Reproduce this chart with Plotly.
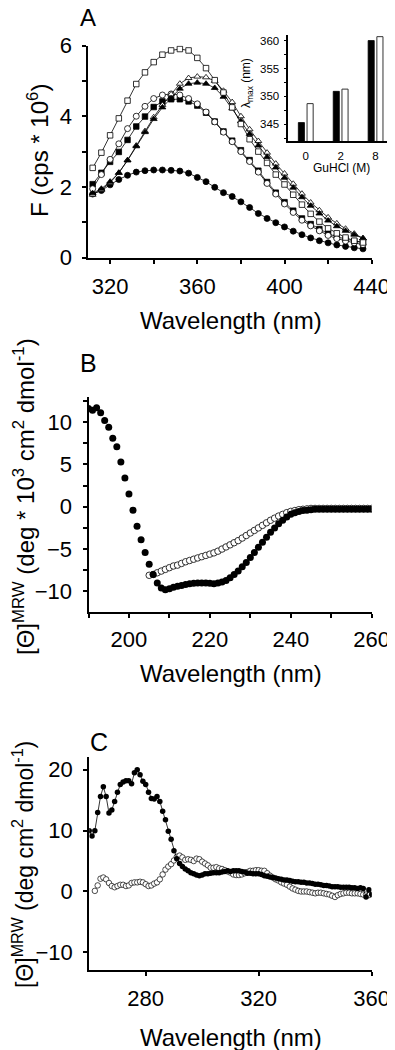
import plotly.graph_objects as go

FONT = "Liberation Sans, Arial, sans-serif"

# ---------------- Panel A data ----------------
wl_A = list(range(312, 437, 4))
sq_open = [2.54, 2.97, 3.46, 3.94, 4.44, 4.91, 5.24, 5.53, 5.74, 5.86, 5.90, 5.86, 5.65, 5.36, 5.02, 4.67,
           4.25, 3.78, 3.35, 3.00, 2.68, 2.35, 2.07, 1.78, 1.50, 1.24, 1.02, 0.83, 0.69, 0.57, 0.48, 0.43]
tri_open = [1.78, 1.92, 2.12, 2.40, 2.76, 3.17, 3.58, 3.97, 4.32, 4.62, 4.92, 5.08, 5.12, 5.10, 5.00, 4.72,
            4.40, 4.00, 3.63, 3.30, 2.97, 2.66, 2.38, 2.09, 1.81, 1.56, 1.34, 1.14, 0.97, 0.82, 0.68, 0.55]
tri_filled = [1.82, 1.95, 2.15, 2.40, 2.75, 3.15, 3.55, 3.92, 4.25, 4.50, 4.78, 4.92, 4.95, 4.92, 4.80, 4.55,
              4.22, 3.86, 3.50, 3.17, 2.85, 2.55, 2.26, 1.98, 1.71, 1.47, 1.25, 1.05, 0.89, 0.76, 0.65, 0.55]
circ_open = [1.95, 2.35, 2.78, 3.22, 3.65, 4.00, 4.28, 4.50, 4.60, 4.63, 4.60, 4.50, 4.35, 4.12, 3.84, 3.55,
             3.28, 3.00, 2.72, 2.42, 2.10, 1.80, 1.52, 1.28, 1.06, 0.90, 0.76, 0.63, 0.54, 0.47, 0.42, 0.37]
sq_filled = [2.08, 2.40, 2.71, 2.99, 3.33, 3.71, 3.99, 4.26, 4.42, 4.48, 4.48, 4.42, 4.30, 4.10, 3.85, 3.57,
             3.31, 3.04, 2.76, 2.46, 2.14, 1.84, 1.57, 1.33, 1.11, 0.95, 0.81, 0.68, 0.59, 0.52, 0.47, 0.43]
circ_filled = [1.80, 1.90, 2.06, 2.21, 2.33, 2.42, 2.46, 2.48, 2.48, 2.47, 2.45, 2.39, 2.27, 2.15, 1.99, 1.84,
               1.73, 1.58, 1.42, 1.25, 1.11, 0.99, 0.87, 0.75, 0.65, 0.56, 0.48, 0.42, 0.36, 0.32, 0.28, 0.25]
A_xticks = [320, 360, 400, 440]
A_yticks = [0, 2, 4, 6]

# inset
guhcl = ["0", "2", "8"]
lam_black = [345.3, 350.9, 360.0]
lam_white = [348.7, 351.3, 360.7]
in_yticks = [345, 350, 355, 360]

# ---------------- Panel B data ----------------
wl_B_filled = list(range(190, 261))
B_filled = [11.6, 11.4, 11.7, 11.1, 10.2, 9.4, 8.1, 7.1, 5.3, 3.4,
            1.5, -0.4, -2.3, -3.9, -5.4, -6.8, -8.0, -9.0, -9.6, -9.8,
            -9.7, -9.5, -9.4, -9.3, -9.2, -9.1, -9.05, -9.0, -9.0, -9.0,
            -9.05, -9.1, -9.0, -8.9, -8.7, -8.4, -8.0, -7.6, -7.1, -6.6,
            -6.0, -5.4, -4.8, -4.2, -3.6, -3.0, -2.5, -2.0, -1.6, -1.2,
            -0.9, -0.7, -0.55, -0.45, -0.4, -0.35, -0.3, -0.3, -0.3, -0.3,
            -0.3, -0.3, -0.3, -0.3, -0.3, -0.3, -0.3, -0.3, -0.3, -0.3,
            -0.3]
wl_B_open = list(range(205, 261))
B_open = [-8.1, -8.0, -7.8, -7.6, -7.4,
          -7.2, -7.0, -6.9, -6.7, -6.5, -6.35, -6.2, -6.05, -5.9, -5.75,
          -5.6, -5.45, -5.25, -5.0, -4.75, -4.5, -4.25, -4.0, -3.7, -3.4,
          -3.1, -2.8, -2.5, -2.2, -1.9, -1.6, -1.35, -1.1, -0.9, -0.7,
          -0.55, -0.45, -0.35, -0.3, -0.25, -0.2, -0.2, -0.2, -0.2, -0.2,
          -0.2, -0.2, -0.2, -0.2, -0.2, -0.2, -0.2, -0.2, -0.2, -0.2, -0.2]
B_xticks = [200, 220, 240, 260]
B_yticks = [-10, -5, 0, 5, 10]

# ---------------- Panel C data ----------------
wl_C_filled = list(range(260, 361))
C_filled = [10.0, 9.1, 10.0, 13.0, 15.6, 17.2, 15.6, 12.9, 13.4, 14.8,
            16.3, 17.6, 18.0, 18.2, 18.2, 17.7, 19.5, 20.0, 19.2, 18.1,
            17.6, 16.3, 15.3, 15.2, 15.6, 14.8, 13.2, 11.8, 9.9, 8.6,
            6.7, 5.4, 4.6, 4.1, 3.7, 3.4, 3.1, 2.9, 2.7, 2.6,
            2.7, 2.9, 2.9, 3.0, 3.1, 3.1, 3.1, 3.2, 3.3, 3.4,
            3.3, 3.4, 3.4, 3.4, 3.3, 3.2, 3.0, 3.0, 2.9, 2.9,
            2.9, 2.8, 2.6, 2.5, 2.4, 2.3, 2.2, 2.1, 2.0, 1.9,
            1.9, 1.8, 1.7, 1.6, 1.6, 1.5, 1.5, 1.4, 1.4, 1.3,
            1.2, 1.2, 1.1, 1.0, 1.0, 0.9, 0.8, 0.8, 0.8, 0.7,
            0.7, 0.7, 0.7, 0.6, 0.6, 0.5, 0.6, 0.5, -0.9, 0.3, -0.5]
wl_C_open = list(range(262, 360))
C_open = [0.1, 1.0, 2.1, 2.3, 2.0, 1.4, 0.9, 0.7,
          0.9, 1.1, 1.1, 0.9, 1.0, 1.4, 1.5, 1.5, 1.6, 1.5,
          1.2, 0.9, 1.0, 1.3, 1.5, 2.0, 2.8, 3.6, 4.1, 4.5,
          5.1, 5.7, 5.9, 5.6, 5.2, 5.3, 5.2, 5.0, 5.4, 5.3,
          4.9, 4.6, 4.3, 3.9, 3.9, 4.0, 3.8, 3.7, 3.5, 3.3,
          3.1, 2.8, 2.7, 2.7, 2.8, 3.0, 3.2, 3.4, 3.4, 3.5,
          3.5, 3.4, 3.4, 3.0, 2.6, 2.3, 2.0, 1.8, 1.5, 1.3,
          1.1, 0.8, 0.5, 0.3, 0.1, 0.0, 0.0, 0.0, -0.1, -0.2,
          -0.3, -0.2, -0.2, -0.3, -0.4, -0.5, -0.7, -0.9, -0.6, -0.4,
          -0.3, -0.2, -0.2, -0.3, -0.3, -0.3, -0.4, -0.5, -0.5, -0.6]
C_xticks = [280, 320, 360]
C_yticks = [-10, 0, 10, 20]

# the page body adds an 8px offset; figure sized to fill the remaining window
OFF = 8
W, H = 395 - OFF, 1050 - OFF
def px(x):
    return (x - OFF) / W
def py(y):
    return 1 - (y - OFF) / H

fig = go.Figure()

def a_trace(y, symbol, filled):
    fig.add_trace(go.Scatter(
        x=wl_A, y=y, mode="lines+markers", xaxis="x", yaxis="y",
        line=dict(color="black", width=0.8),
        marker=dict(symbol=symbol, size=5.5 if "square" in symbol else 6,
                    color="black" if filled else "white",
                    line=dict(color="black", width=0.8)),
        showlegend=False))

a_trace(circ_filled, "circle", True)
a_trace(sq_filled, "square", True)
a_trace(circ_open, "circle", False)
a_trace(tri_open, "triangle-up", False)
a_trace(tri_filled, "triangle-up", True)
a_trace(sq_open, "square", False)

# inset bars
fig.add_trace(go.Bar(x=guhcl, y=lam_black, xaxis="x4", yaxis="y4",
                     marker=dict(color="black", line=dict(color="black", width=0.8)),
                     showlegend=False))
fig.add_trace(go.Bar(x=guhcl, y=lam_white, xaxis="x4", yaxis="y4",
                     marker=dict(color="white", line=dict(color="#333", width=1)),
                     showlegend=False))

# Panel B
fig.add_trace(go.Scatter(x=wl_B_open, y=B_open, mode="markers", xaxis="x2", yaxis="y2",
                         marker=dict(size=6.5, color="white", line=dict(color="black", width=0.8)),
                         showlegend=False))
fig.add_trace(go.Scatter(x=wl_B_filled, y=B_filled, mode="markers", xaxis="x2", yaxis="y2",
                         marker=dict(size=7, color="black", line=dict(color="black", width=0)),
                         showlegend=False))

# Panel C
fig.add_trace(go.Scatter(x=wl_C_open, y=C_open, mode="markers", xaxis="x3", yaxis="y3",
                         marker=dict(size=5.5, color="white", line=dict(color="black", width=0.7)),
                         showlegend=False))
fig.add_trace(go.Scatter(x=wl_C_filled, y=C_filled, mode="lines+markers", xaxis="x3", yaxis="y3",
                         line=dict(color="black", width=0.8),
                         marker=dict(size=5.5, color="black"),
                         showlegend=False))

ax_common = dict(showgrid=False, zeroline=False, showline=True, linecolor="black", linewidth=2,
                 ticks="outside", ticklen=4, tickwidth=1.5, tickcolor="black", automargin=False,
                 tickfont=dict(family=FONT, size=22, color="black"), tickmode="array")

def minor(dtick, tick0):
    return dict(ticks="outside", ticklen=4, tickwidth=1.5, tickcolor="black",
                dtick=dtick, tick0=tick0, showgrid=False)

fig.update_layout(
    width=W, height=H, margin=dict(l=0, r=0, t=0, b=0, autoexpand=False),
    paper_bgcolor="white", plot_bgcolor="white",
    barmode="group", bargap=0.5, bargroupgap=0.3,
    xaxis=dict(ax_common, domain=[px(88.3), px(371.7)], range=[310, 440],
               tickvals=A_xticks, anchor="y", ticklabelstandoff=4, minor=minor(20, 320)),
    yaxis=dict(ax_common, domain=[py(257.7), py(45.5)], range=[0, 6],
               tickvals=A_yticks, anchor="x", ticklabelstandoff=6, minor=minor(1, 0)),
    xaxis2=dict(ax_common, domain=[px(88.5), px(371.7)], range=[190, 260],
                tickvals=B_xticks, anchor="y2", ticklabelstandoff=3, minor=minor(10, 190)),
    yaxis2=dict(ax_common, domain=[py(611.7), py(396.7)], range=[-12.4, 13.0],
                tickvals=B_yticks, anchor="x2", ticklabelstandoff=6, minor=minor(2.5, 0)),
    xaxis3=dict(ax_common, domain=[px(89.2), px(371.7)], range=[260, 360],
                tickvals=C_xticks, anchor="y3", ticklabelstandoff=4),
    yaxis3=dict(ax_common, domain=[py(970), py(757)], range=[-12.9, 22.1],
                tickvals=C_yticks, anchor="x3", ticklabelstandoff=6),
    xaxis4=dict(showgrid=False, zeroline=False, showline=True, linecolor="black", linewidth=1.5,
                ticks="", tickfont=dict(family=FONT, size=11.5, color="black"), automargin=False,
                domain=[px(288.3), px(393)], anchor="y4", type="category", ticklabelstandoff=3),
    yaxis4=dict(showgrid=False, zeroline=False, showline=True, linecolor="black", linewidth=1.5,
                ticks="outside", ticklen=3, tickwidth=1, tickcolor="black", automargin=False,
                tickfont=dict(family=FONT, size=11.5, color="black"),
                domain=[py(141), py(35)], range=[342, 361], anchor="x4",
                tickmode="array", tickvals=in_yticks, ticklabelstandoff=2,
                minor=dict(ticks="outside", ticklen=3, tickwidth=1, tickcolor="black",
                           dtick=2.5, tick0=345, showgrid=False)),
)

def ann(text, x, y, size, angle=0):
    fig.add_annotation(text=text, x=px(x), y=py(y), xref="paper", yref="paper",
                       showarrow=False, textangle=angle, xanchor="center", yanchor="middle",
                       borderpad=0, font=dict(family=FONT, size=size, color="black"))

ann("A", 88, 17, 24)
ann("B", 88, 363, 25)
ann("C", 99, 742, 25)
ann("F (cps * 10<sup>6</sup>)", 38, 151, 24, -90)
ann("Wavelength (nm)", 231, 320, 24)
ann("[Θ]<sup>MRW</sup> (deg * 10<sup>3</sup> cm<sup>2</sup> dmol<sup>-1</sup>)", 24, 497, 24, -90)
ann("Wavelength (nm)", 231, 673, 24)
ann("[Θ]<sup>MRW</sup> (deg cm<sup>2</sup> dmol<sup>-1</sup>)", 23, 865, 23, -90)
ann("Wavelength (nm)", 231, 1037, 24)
ann("λ<sub>max</sub> (nm)", 247, 83, 12, -90)
ann("GuHCl (M)", 341, 168, 12)

fig.write_html("out.html")
